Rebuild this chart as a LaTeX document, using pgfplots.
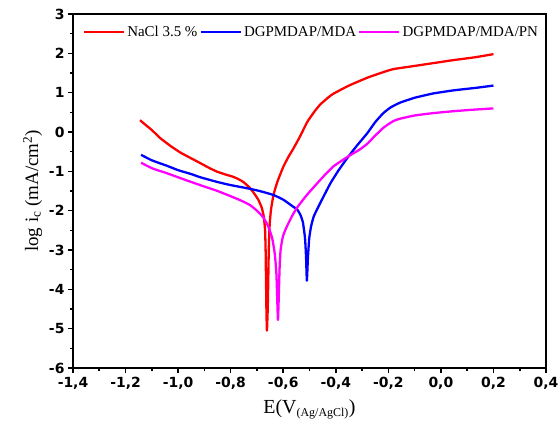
\documentclass[border=0pt]{standalone}
\usepackage{fontspec}
\setmainfont{Liberation Serif}
\newfontfamily\tickfont{DejaVu Sans}
\usepackage{pgfplots}
\pgfplotsset{compat=1.18}
\definecolor{nacl}{HTML}{FF0000}
\definecolor{mda}{HTML}{0000FF}
\definecolor{mdapn}{HTML}{FF00FF}

\begin{document}
\begin{tikzpicture}
\begin{axis}[
  scale only axis,
  width=473bp, height=354bp,
  xmin=-1.4, xmax=0.4, ymin=-6, ymax=3,
  xtick={-1.4,-1.2,-1.0,-0.8,-0.6,-0.4,-0.2,0,0.2,0.4},
  xticklabels={{-1,4},{-1,2},{-1,0},{-0,8},{-0,6},{-0,4},{-0,2},{0,0},{0,2},{0,4}},
  ytick={-6,-5,-4,-3,-2,-1,0,1,2,3},
  yticklabels={-6,-5,-4,-3,-2,-1,0,1,2,3},
  minor x tick num=1, minor y tick num=1,
  tick pos=left, tick align=outside,
  major tick length=5bp, minor tick length=3bp,
  every tick/.style={black, line width=1.6pt},
  axis line style={black, line width=1.9pt},
  tick label style={font=\tickfont\bfseries\fontsize{14}{16}\selectfont},
  xticklabel style={yshift=-1bp},
  xlabel={E(V\textsubscript{\fontsize{12}{13}\selectfont(Ag/AgCl)})},
  ylabel={log i\textsubscript{c} (mA/cm\textsuperscript{2})},
  xlabel style={font=\fontsize{20}{22}\selectfont, yshift=-3bp},
  ylabel style={font=\fontsize{19}{21}\selectfont, yshift=0bp},
  legend columns=3,
  legend style={at={(0.018,0.975)}, anchor=north west, draw=none, fill=none,
    font=\fontsize{15}{17}\selectfont, inner sep=1pt,
    /tikz/every even column/.append style={column sep=0pt}},
  legend image code/.code={\draw[#1, line width=2.6pt] (0bp,0bp) -- (40bp,0bp);},
  every axis plot/.append style={line width=2.3pt, line join=round, smooth, tension=0.3},
]

\addplot[nacl] coordinates {
(-1.145,0.30) (-1.12,0.16) (-1.10,0.05) (-1.069,-0.15) (-1.03,-0.35) (-0.992,-0.52)
(-0.95,-0.67) (-0.916,-0.79) (-0.88,-0.92) (-0.851,-1.01) (-0.82,-1.08)
(-0.79,-1.14) (-0.77,-1.20) (-0.752,-1.27) (-0.73,-1.40) (-0.714,-1.53)
(-0.695,-1.72) (-0.682,-1.92) (-0.674,-2.15) (-0.669,-2.5) (-0.667,-3.0)
(-0.666,-3.5) (-0.665,-4.0) (-0.664,-4.5) (-0.662,-5.05)
(-0.659,-4.5) (-0.657,-3.8) (-0.655,-3.0) (-0.652,-2.4) (-0.647,-2.0)
(-0.637,-1.6) (-0.623,-1.28) (-0.60,-0.89) (-0.58,-0.63) (-0.562,-0.43)
(-0.535,-0.10) (-0.509,0.25) (-0.48,0.53) (-0.459,0.70) (-0.43,0.87)
(-0.41,0.97) (-0.35,1.18) (-0.28,1.38) (-0.22,1.52) (-0.18,1.60)
(-0.10,1.68) (-0.03,1.75) (0.05,1.83) (0.13,1.90) (0.20,1.98)
};
\addlegendentry{NaCl 3.5 \%}

\addplot[mda] coordinates {
(-1.141,-0.58) (-1.10,-0.72) (-1.042,-0.86) (-1.00,-0.97) (-0.95,-1.07)
(-0.916,-1.15) (-0.851,-1.27) (-0.80,-1.35) (-0.737,-1.43) (-0.69,-1.50)
(-0.638,-1.60) (-0.60,-1.72) (-0.562,-1.90) (-0.547,-1.97) (-0.535,-2.10)
(-0.525,-2.3) (-0.517,-2.7) (-0.513,-3.2) (-0.510,-3.78)
(-0.506,-3.2) (-0.501,-2.7) (-0.494,-2.4) (-0.484,-2.15) (-0.47,-1.95)
(-0.445,-1.62) (-0.42,-1.30) (-0.39,-0.98) (-0.356,-0.66) (-0.32,-0.35)
(-0.28,-0.03) (-0.25,0.25) (-0.219,0.48) (-0.19,0.63) (-0.154,0.75)
(-0.10,0.87) (-0.029,0.98) (0.05,1.06) (0.13,1.12) (0.20,1.18)
};
\addlegendentry{DGPMDAP/MDA}

\addplot[mdapn] coordinates {
(-1.141,-0.78) (-1.10,-0.92) (-1.042,-1.05) (-0.98,-1.20) (-0.916,-1.35)
(-0.85,-1.50) (-0.79,-1.66) (-0.755,-1.76) (-0.726,-1.86) (-0.70,-2.0)
(-0.676,-2.17) (-0.657,-2.40) (-0.642,-2.70) (-0.632,-3.1) (-0.626,-3.6)
(-0.623,-4.2) (-0.620,-4.78)
(-0.617,-4.2) (-0.614,-3.5) (-0.610,-3.0) (-0.601,-2.65) (-0.586,-2.40)
(-0.565,-2.12) (-0.547,-1.92) (-0.51,-1.60) (-0.47,-1.30) (-0.44,-1.08)
(-0.41,-0.88) (-0.38,-0.74) (-0.345,-0.59) (-0.31,-0.45) (-0.28,-0.30)
(-0.26,-0.16) (-0.242,-0.04) (-0.22,0.10) (-0.204,0.18) (-0.18,0.28)
(-0.154,0.34) (-0.10,0.42) (-0.029,0.48) (0.05,0.53) (0.13,0.57) (0.20,0.60)
};
\addlegendentry{DGPMDAP/MDA/PN}

\end{axis}
\pgfresetboundingbox
\path (current axis.south west) ++(-73bp,-73bp) rectangle (current axis.north east) ++(13bp,14bp);
\end{tikzpicture}
\end{document}
